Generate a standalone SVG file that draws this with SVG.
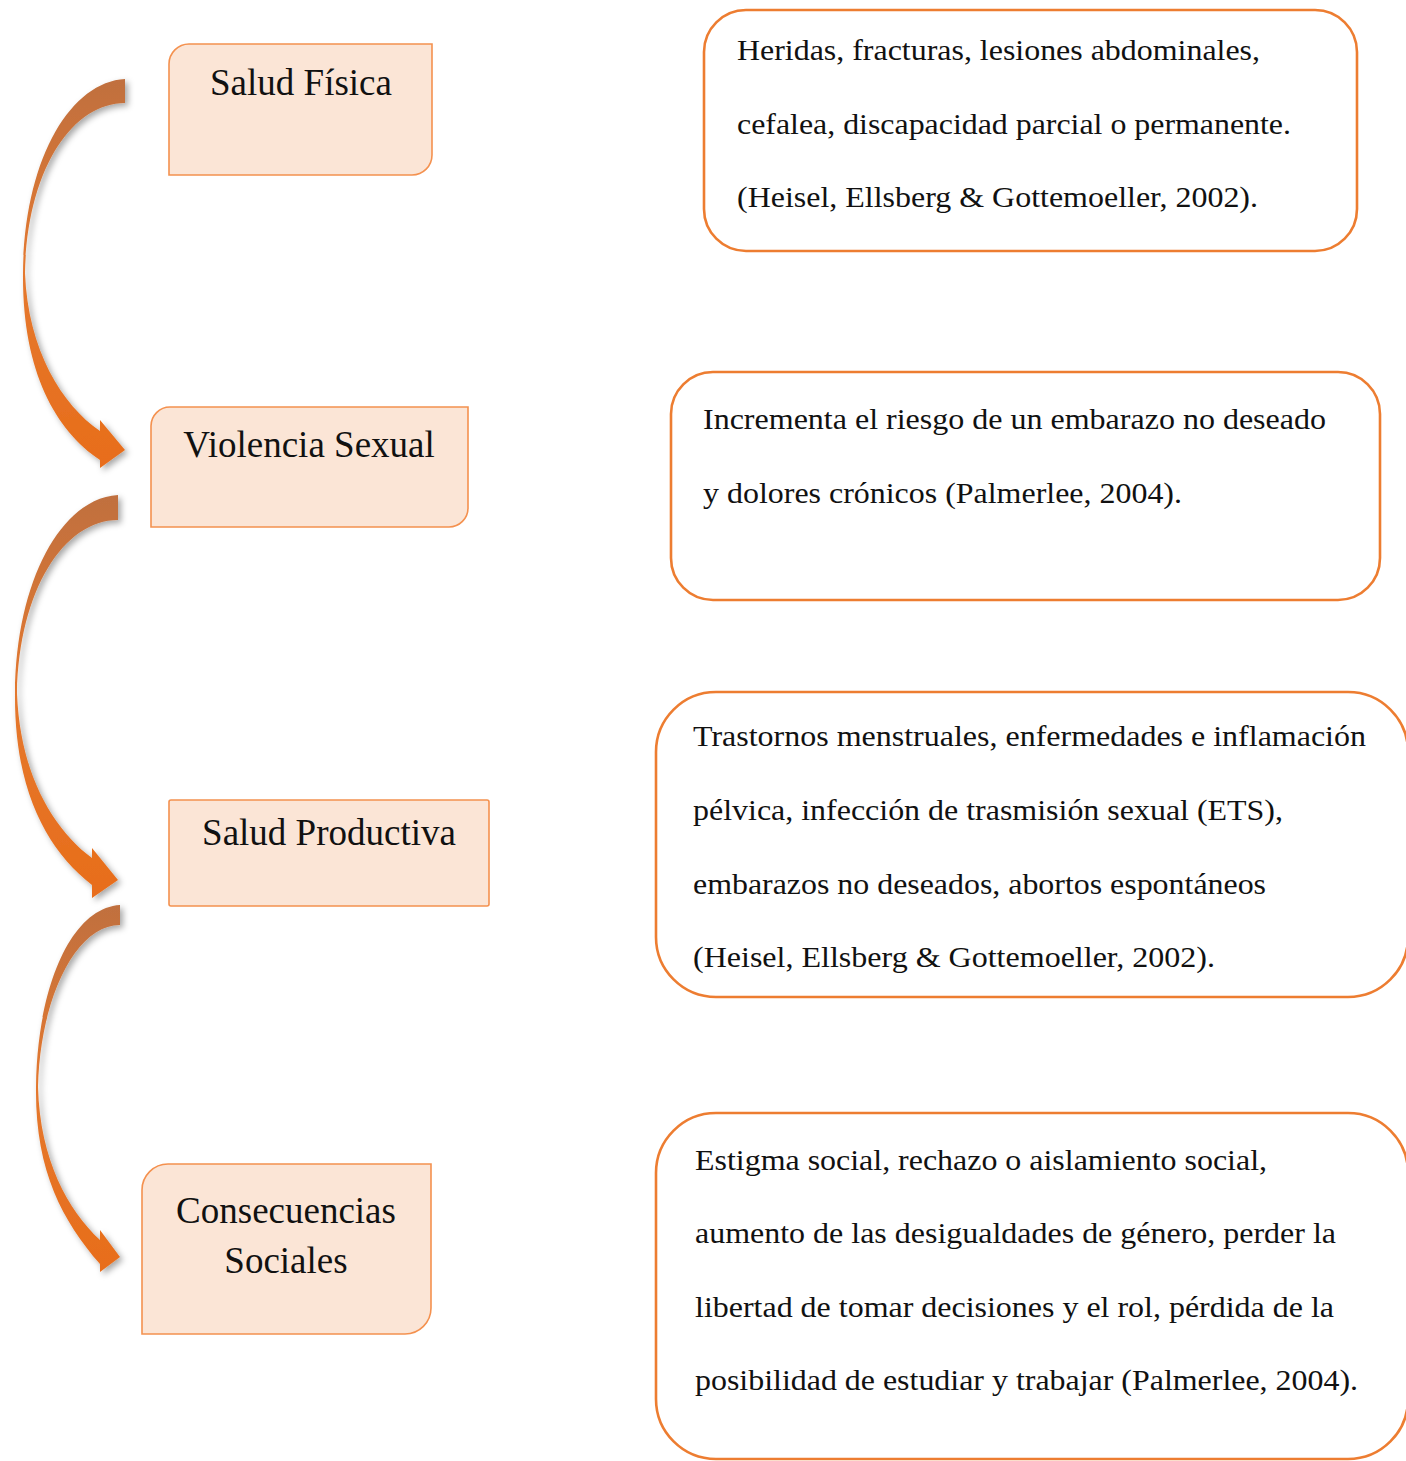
<svg xmlns="http://www.w3.org/2000/svg" width="1406" height="1461" viewBox="0 0 1406 1461">
<defs>
<style>
.lbox{fill:#fbe5d6;stroke:#f4914f;stroke-width:1.6}
.rbox{fill:#ffffff;stroke:#ed7d31;stroke-width:2.6}
.ttl{font-size:37px;fill:#111;text-anchor:middle}
.txt{font-size:30px;fill:#111}
.arr{fill:url(#ag);filter:url(#sh)}
</style>
<linearGradient id="ag" x1="0" y1="0" x2="0" y2="1">
<stop offset="0" stop-color="#c0703f"/>
<stop offset="0.5" stop-color="#e4782e"/>
<stop offset="1" stop-color="#e86d1a"/>
</linearGradient>
<filter id="sh" x="-30%" y="-10%" width="160%" height="120%">
<feDropShadow dx="3" dy="3" stdDeviation="3" flood-color="#000" flood-opacity="0.35"/>
</filter>
</defs>
<rect width="1406" height="1461" fill="#ffffff"/>

<g id="connectors">
<path class="arr" d="M125,79 C70,82 24,160 23,273 C22,370 55,430 100,460 L100,468 L125,450 L100,420 L100,431 C62,405 28,350 25,273 C27,170 72,103 125,103 Z"/>
<path class="arr" d="M118,495 C62,498 16,580 15,693 C14,790 47,850 92,885 L92,898 L118,880 L92,848 L92,858 C54,830 20,775 17,693 C19,590 64,520 118,520 Z"/>
<path class="arr" d="M120,905 C70,908 37,990 36,1087 C35,1170 62,1220 100,1264 L100,1272 L120,1257 L100,1230 L100,1240 C68,1210 40,1160 38,1087 C40,1000 75,925 120,925 Z"/>
</g>

<g font-family="'Liberation Serif', 'Times New Roman', Times, serif">
<g id="salud-fisica">
<path class="lbox" d="M189,44 H432 V155 A20,20 0 0 1 412,175 H169 V64 A20,20 0 0 1 189,44 Z"/>
<text class="ttl" x="301" y="95">Salud Física</text>
</g>
<g id="violencia-sexual">
<path class="lbox" d="M170,407 H468 V508 A19,19 0 0 1 449,527 H151 V426 A19,19 0 0 1 170,407 Z"/>
<text class="ttl" x="309" y="457">Violencia Sexual</text>
</g>
<g id="salud-productiva">
<rect class="lbox" x="169" y="800" width="320" height="106" rx="2"/>
<text class="ttl" x="329" y="845">Salud Productiva</text>
</g>
<g id="consecuencias-sociales">
<path class="lbox" d="M168,1164 H431 V1308 A26,26 0 0 1 405,1334 H142 V1190 A26,26 0 0 1 168,1164 Z"/>
<text class="ttl" x="286" y="1223">Consecuencias</text>
<text class="ttl" x="286" y="1273">Sociales</text>
</g>

<g id="box-fisica">
<rect class="rbox" x="704" y="10" width="653" height="241" rx="42"/>
<text class="txt" x="737" y="60" textLength="523" lengthAdjust="spacingAndGlyphs">Heridas, fracturas, lesiones abdominales,</text>
<text class="txt" x="737" y="134" textLength="554" lengthAdjust="spacingAndGlyphs">cefalea, discapacidad parcial o permanente.</text>
<text class="txt" x="737" y="207" textLength="521" lengthAdjust="spacingAndGlyphs">(Heisel, Ellsberg &amp; Gottemoeller, 2002).</text>
</g>
<g id="box-sexual">
<rect class="rbox" x="671" y="372" width="709" height="228" rx="42"/>
<text class="txt" x="703" y="429" textLength="623" lengthAdjust="spacingAndGlyphs">Incrementa el riesgo de un embarazo no deseado</text>
<text class="txt" x="703" y="503" textLength="479" lengthAdjust="spacingAndGlyphs">y dolores crónicos (Palmerlee, 2004).</text>
</g>
<g id="box-productiva">
<rect class="rbox" x="656" y="692" width="752" height="305" rx="60"/>
<text class="txt" x="693" y="746" textLength="673" lengthAdjust="spacingAndGlyphs">Trastornos menstruales, enfermedades e inflamación</text>
<text class="txt" x="693" y="820" textLength="590" lengthAdjust="spacingAndGlyphs">pélvica, infección de trasmisión sexual (ETS),</text>
<text class="txt" x="693" y="894" textLength="573" lengthAdjust="spacingAndGlyphs">embarazos no deseados, abortos espontáneos</text>
<text class="txt" x="693" y="967" textLength="522" lengthAdjust="spacingAndGlyphs">(Heisel, Ellsberg &amp; Gottemoeller, 2002).</text>
</g>
<g id="box-sociales">
<rect class="rbox" x="656" y="1113" width="752" height="346" rx="60"/>
<text class="txt" x="695" y="1170" textLength="572" lengthAdjust="spacingAndGlyphs">Estigma social, rechazo o aislamiento social,</text>
<text class="txt" x="695" y="1243" textLength="641" lengthAdjust="spacingAndGlyphs">aumento de las desigualdades de género, perder la</text>
<text class="txt" x="695" y="1317" textLength="639" lengthAdjust="spacingAndGlyphs">libertad de tomar decisiones y el rol, pérdida de la</text>
<text class="txt" x="695" y="1390" textLength="663" lengthAdjust="spacingAndGlyphs">posibilidad de estudiar y trabajar (Palmerlee, 2004).</text>
</g>
</g>
</svg>
